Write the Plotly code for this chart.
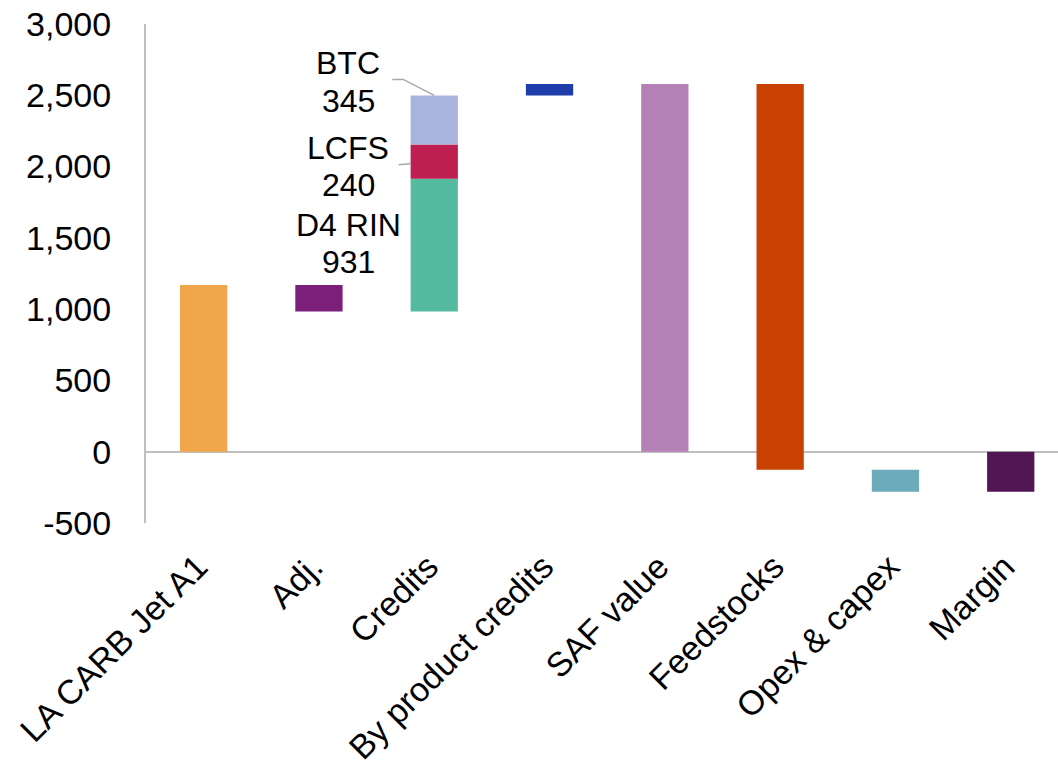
import plotly.graph_objects as go

categories = ["LA CARB Jet A1", "Adj.", "Credits", "By product credits",
              "SAF value", "Feedstocks", "Opex & capex", "Margin"]
jet_a1 = 1170
adj = -187
credit_names = ["D4 RIN", "LCFS", "BTC"]
credit_values = [931, 240, 345]
by_product = 80
feedstocks = -2705
opex = -154
y_ticks = [-500, 0, 500, 1000, 1500, 2000, 2500, 3000]
y_tick_text = [f"{v:,}" for v in y_ticks]

colors = {
    "jet": "#F0A64B", "adj": "#7B1F7B", "D4 RIN": "#55BBA0", "LCFS": "#BE1F50",
    "BTC": "#A9B4DE", "byp": "#1E3CAA", "saf": "#B381B6", "feed": "#C84100",
    "opex": "#6CABBC", "margin": "#521654",
}
W = 0.41
FONT = "Liberation Sans, Arial, sans-serif"

fig = go.Figure()

def add_bar(idx, base, value, color, name):
    fig.add_trace(go.Bar(x=[idx], y=[value], base=[base], width=W,
                         marker=dict(color=color, line=dict(width=0)),
                         name=name, showlegend=False))

level = 0
add_bar(0, 0, jet_a1, colors["jet"], categories[0])
level = jet_a1
add_bar(1, level, adj, colors["adj"], categories[1])
level += adj
credit_bases = []
for n, v in zip(credit_names, credit_values):
    credit_bases.append(level)
    add_bar(2, level, v, colors[n], n)
    level += v
add_bar(3, level, by_product, colors["byp"], categories[3])
level += by_product
saf_value = level
add_bar(4, 0, saf_value, colors["saf"], categories[4])
add_bar(5, saf_value, feedstocks, colors["feed"], categories[5])
level = saf_value + feedstocks
add_bar(6, level, opex, colors["opex"], categories[6])
level += opex
margin = level
add_bar(7, 0, margin, colors["margin"], categories[7])

# credit labels
label_offsets = {"D4 RIN": (20, -17), "LCFS": (14, -23), "BTC": (57, 19)}
for n, v, b in zip(credit_names, credit_values, credit_bases):
    mid = b + v / 2
    s1, s2 = label_offsets[n]
    for txt, s in ((n, s1), (str(v), s2)):
        fig.add_annotation(x=2, y=mid, xref="x", yref="y", text=txt,
                           showarrow=False, xshift=-86, yshift=s,
                           xanchor="center", yanchor="middle",
                           font=dict(family=FONT, size=32, color="#000000"))

# leader lines
btc_top = credit_bases[2] + credit_values[2]
fig.add_shape(type="path", xref="x", yref="y", xsizemode="pixel", ysizemode="pixel",
              xanchor=2, yanchor=btc_top, path="M -42,16 L -31,16 L 0,0",
              line=dict(color="#A6A6A6", width=1.5))
lcfs_mid = credit_bases[1] + credit_values[1] / 2
fig.add_shape(type="path", xref="x", yref="y", xsizemode="pixel", ysizemode="pixel",
              xanchor=2 - W / 2, yanchor=lcfs_mid, path="M -12,-3 L -1,-2 L 0,0",
              line=dict(color="#A6A6A6", width=1.5))

fig.update_layout(
    width=1058, height=765,
    margin=dict(l=146, r=0, t=24, b=242, autoexpand=False),
    paper_bgcolor="white", plot_bgcolor="white",
    barmode="overlay",
    font=dict(family=FONT, color="#000000"),
    xaxis=dict(
        range=[-0.5, 7.41], tickmode="array", tickvals=list(range(len(categories))),
        ticktext=categories, tickangle=-45, showgrid=False, showline=False,
        zeroline=False, ticks="", ticklabelstandoff=16, ticklabelshift=-6,
        automargin=False,
        tickfont=dict(family=FONT, size=34, color="#000000"),
    ),
    yaxis=dict(
        range=[-500, 3000], tickmode="array", tickvals=y_ticks, ticktext=y_tick_text,
        showgrid=False, showline=True, linecolor="#BFBFBF", linewidth=2,
        zeroline=True, zerolinecolor="#BFBFBF", zerolinewidth=2, ticks="",
        automargin=False,
        ticklabelstandoff=26, tickfont=dict(family=FONT, size=34, color="#000000"),
    ),
)

fig.write_html("out.html")
